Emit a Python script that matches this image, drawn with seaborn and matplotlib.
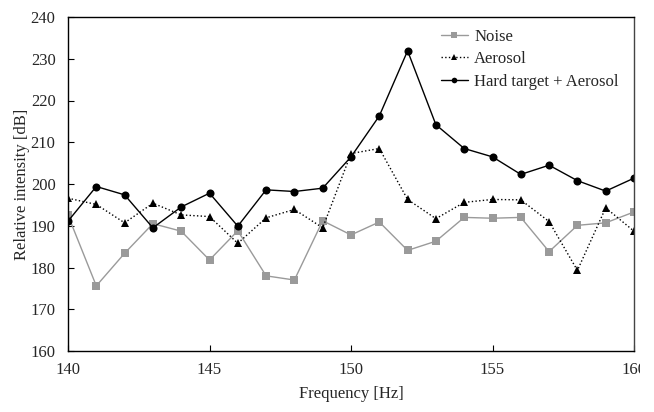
import numpy as np
import pandas as pd
import seaborn as sns
import matplotlib
matplotlib.use("Agg")
import matplotlib.pyplot as plt
from matplotlib.transforms import Bbox, TransformedBbox

freq = list(range(140, 161))
noise = [192.5, 175.6, 183.4, 190.5, 188.7, 181.8, 188.8, 178.0, 177.0, 191.2,
         187.8, 190.9, 184.1, 186.3, 192.0, 191.8, 192.0, 183.8, 190.1, 190.7, 193.3]
aerosol = [196.6, 195.1, 190.7, 195.4, 192.6, 192.2, 185.8, 191.9, 193.9, 189.5,
           207.3, 208.5, 196.3, 191.7, 195.6, 196.3, 196.2, 191.0, 179.3, 194.3, 188.7]
hard = [191.1, 199.4, 197.4, 189.5, 194.5, 197.8, 189.9, 198.6, 198.2, 199.0,
        206.5, 216.3, 231.9, 214.2, 208.5, 206.5, 202.3, 204.5, 200.8, 198.3, 201.4]
labels = ["Noise", "Aerosol", "Hard target + Aerosol"]
xticks = [140, 145, 150, 155, 160]
yticks = [160, 170, 180, 190, 200, 210, 220, 230, 240]

df = pd.DataFrame({"freq": freq, "noise": noise, "aerosol": aerosol, "hard": hard})

FS = 12
sns.set_theme(style="white")
plt.rcParams["font.family"] = ["Liberation Serif", "DejaVu Serif"]
plt.rcParams["font.size"] = FS

fig = plt.figure(figsize=(6.54, 4.12), dpi=100)
W, H = 654, 412
ax = fig.add_axes([68 / W, 1 - 351 / H, (634 - 68) / W, (351 - 17) / H])

sns.lineplot(data=df, x="freq", y="noise", ax=ax, color="#9a9a9a", marker="s",
             markersize=5.2, markeredgewidth=0, linewidth=1.0, label=labels[0])
sns.lineplot(data=df, x="freq", y="aerosol", ax=ax, color="black", marker="^",
             markersize=5.8, markeredgewidth=0, linewidth=1.0, linestyle=":",
             label=labels[1])
sns.lineplot(data=df, x="freq", y="hard", ax=ax, color="black", marker="o",
             markersize=5.8, markeredgewidth=0, linewidth=1.0, label=labels[2])

ax.set_xlim(140, 160)
ax.set_ylim(160, 240)
ax.set_xticks(xticks)
ax.set_yticks(yticks)
ax.set_xlabel("Frequency [Hz]", fontsize=FS, labelpad=6)
ax.set_ylabel("Relative intensity [dB]", fontsize=FS, labelpad=0)
ax.tick_params(axis="x", direction="in", length=4, width=0.8, pad=8,
               bottom=True, top=False, labelsize=FS, color="black")
ax.tick_params(axis="y", direction="in", length=4, width=0.8, pad=9,
               left=True, right=False, labelsize=FS, color="black")
for s in ax.spines.values():
    s.set_visible(True)
    s.set_color("black")
    s.set_linewidth(1.0)
ax.spines["right"].set_color("#444444")

leg = ax.legend(loc="upper left", bbox_to_anchor=(441 / W, 1 - 29 / H),
                bbox_transform=fig.transFigure, frameon=False, fontsize=FS,
                handlelength=1.6, handletextpad=0.4, labelspacing=0.38,
                markerscale=0.7, borderpad=0, borderaxespad=0)

fig.canvas.draw()
clip = TransformedBbox(Bbox([[0, 0], [640 / W, 1]]), fig.transFigure)
for lbl in ax.get_xticklabels():
    lbl.set_clip_box(clip)
    lbl.set_clip_on(True)

fig.savefig("out.png", dpi=100)
